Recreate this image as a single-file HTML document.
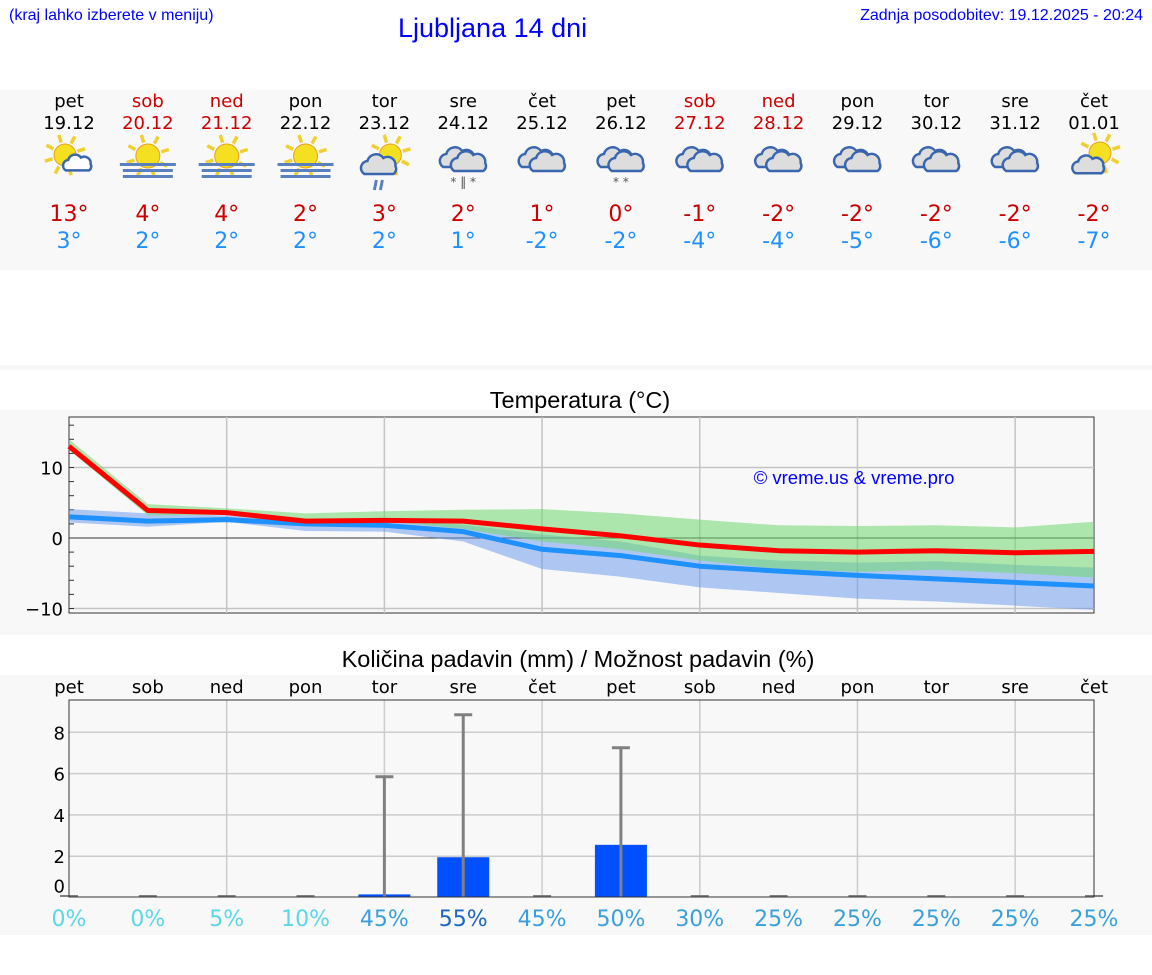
<!DOCTYPE html>
<html><head><meta charset="utf-8"><style>
body{margin:0;width:1152px;height:975px;background:#fff;position:relative;overflow:hidden;font-family:"DejaVu Sans",sans-serif}
.a{position:absolute}
.h{font-family:"Liberation Sans",sans-serif;color:#0000ff}
</style></head><body>
<div class="a h" style="left:9px;top:7px;font-size:16px">(kraj lahko izberete v meniju)</div>
<div class="a h" style="left:398px;top:13px;font-size:27px">Ljubljana 14 dni</div>
<div class="a h" style="right:9px;top:7px;font-size:16px">Zadnja posodobitev: 19.12.2025 - 20:24</div>
<div class="a" style="left:0;top:90px;width:1152px;height:180px;background:#f8f8f8"></div>
<div class="a" style="left:0;top:365px;width:1152px;height:5px;background:#f8f8f8"></div>
<div class="a" style="left:0;top:410px;width:1152px;height:225px;background:#f8f8f8"></div>
<div class="a" style="left:0;top:675px;width:1152px;height:260px;background:#f8f8f8"></div>
<svg id="chart" class="a" style="left:0;top:0" width="1152" height="975"></svg>
<script>
const dayNames=["pet","sob","ned","pon","tor","sre","čet","pet","sob","ned","pon","tor","sre","čet"];
const dates=["19.12","20.12","21.12","22.12","23.12","24.12","25.12","26.12","27.12","28.12","29.12","30.12","31.12","01.01"];
const weekend=[0,1,1,0,0,0,0,0,1,1,0,0,0,0];
const icons=[0,1,1,1,2,3,4,5,4,4,4,4,4,6];
const tMaxLbl=[13,4,4,2,3,2,1,0,-1,-2,-2,-2,-2,-2];
const tMinLbl=[3,2,2,2,2,1,-2,-2,-4,-4,-5,-6,-6,-7];
const tMax=[13,3.9,3.6,2.4,2.5,2.4,1.3,0.3,-1,-1.8,-2,-1.8,-2.1,-1.9];
const tMin=[3,2.4,2.6,2,1.8,0.9,-1.6,-2.5,-4,-4.7,-5.3,-5.8,-6.3,-6.8];
const maxHi=[14,4.8,4.2,3.5,3.8,4,4.1,3.5,2.6,1.8,1.7,1.8,1.5,2.3];
const maxLo=[12.5,3.2,3.3,2.3,2.4,1.3,-0.5,-1.6,-3.2,-4.4,-4.8,-4.5,-5,-5.6];
const minHi=[4.1,3.5,3.2,2.5,2.4,1.9,0.5,-0.5,-2.5,-3.2,-3.5,-3.3,-3.8,-4.2];
const minLo=[2.2,1.6,2.3,1,0.9,-0.5,-4.4,-5.5,-7,-7.8,-8.6,-9,-9.6,-10.2];
const precip=[0,0,0,0,0.15,1.95,0,2.55,0,0,0,0,0,0];
const precipMax=[0,0,0,0,5.85,8.85,0,7.25,0,0,0,0,0,0];
const prob=[0,0,5,10,45,55,45,50,30,25,25,25,25,25];
const tTicks=[-10,0,10];
const pTicks=[0,2,4,6,8];

const X0=69,X1=1094,dx=(X1-X0)/13;
const xd=i=>X0+i*dx;
const yT=v=>538-v*7.05;
const yP=v=>897.5-v*20.65;
const ns="http://www.w3.org/2000/svg";
const svg=document.getElementById('chart');
function mk(t,a,p){const e=document.createElementNS(ns,t);for(const k in a)e.setAttribute(k,a[k]);(p||svg).appendChild(e);return e;}
function txt(x,y,s,sz,fill,anchor,name){const e=mk('text',{x:x,y:y,'font-size':sz,fill:fill,'text-anchor':anchor||'middle','font-family':'"DejaVu Sans",sans-serif'});e.textContent=s;return e;}

const sun=(g,cx,cy,r)=>{for(let k=0;k<8;k++){const a=k*Math.PI/4-0.3;mk('line',{x1:cx+Math.cos(a)*(r+2),y1:cy+Math.sin(a)*(r+2),x2:cx+Math.cos(a)*(r+10),y2:cy+Math.sin(a)*(r+10),stroke:'#f0d030','stroke-width':3.5},g);}mk('circle',{cx:cx,cy:cy,r:r,fill:'#f4e020',stroke:'#e8a020','stroke-width':1},g);};
const cloud=(g,cx,cy,s,fill)=>{mk('path',{d:`M${cx-14*s},${cy+8*s} a${7*s} ${7*s} 0 0 1 ${3*s},${-13*s} a${9*s} ${9*s} 0 0 1 ${16*s},${-3*s} a${8*s} ${8*s} 0 0 1 ${12*s},${8*s} a${6*s} ${6*s} 0 0 1 ${-2*s},${8*s} z`,fill:fill,stroke:'#3a66b0','stroke-width':2.5},g);};
for(let i=0;i<14;i++){
  const x=xd(i), col=weekend[i]?'#cc0000':'#000';
  txt(x,107,dayNames[i],18,col,'middle','day-name');
  txt(x,129,dates[i],18,col,'middle','day-date');
  txt(x,221,tMaxLbl[i]+'°',22,'#cc0000','middle','max-temp');
  txt(x,248,tMinLbl[i]+'°',22,'#1e90ff','middle','min-temp');
  const g=mk('g',{});
  const t=icons[i], cy=160;
  if(t==0){sun(g,x-4,cy-5,11);cloud(g,x+8,cy+4,0.8,'#fff');}
  if(t==1){sun(g,x,cy-4,12);for(let k=0;k<3;k++)mk('rect',{x:x-28+(k?3:0),y:cy+3+k*6,width:k?50:56,height:3,fill:'#5a80c0'},g);}
  if(t==2){sun(g,x+6,cy-5,11);cloud(g,x-6,cy+6,1,'#ddd');mk('path',{d:`M${x-8},${cy+20} l-2,10 M${x-2},${cy+20} l-2,10`,stroke:'#5a80c0','stroke-width':3},g);}
  if(t==3||t==5||t==4){cloud(g,x-6,cy-1,1,'#ddd');cloud(g,x+5,cy+3,1,'#ddd');}
  if(t==3||t==5)txt(x,cy+26,t==3?'* ‖ *':'* *',12,'#555','middle','precip-symbol');
  if(t==6){sun(g,x+6,cy-7,11);cloud(g,x-6,cy+6,0.9,'#ddd');}
}

const tt=txt(580,408,'Temperatura (°C)',23.5,'#000','middle','temp-chart-title');tt.setAttribute('font-family','"Liberation Sans",sans-serif');
mk('rect',{x:X0,y:417,width:X1-X0,height:196,fill:'#f8f8f8',stroke:'#333','stroke-width':1});
for(let i=2;i<14;i+=2)mk('line',{x1:xd(i),y1:417,x2:xd(i),y2:613,stroke:'#c4c4c4','stroke-width':1.5});
for(const v of tTicks){mk('line',{x1:X0,y1:yT(v),x2:X1,y2:yT(v),stroke:v==0?'#333':'#c4c4c4','stroke-width':v==0?1:1.5});txt(X0-6,yT(v)+7,v<0?'−'+(-v):String(v),18,'#000','end','temp-tick');}
for(let v=-10;v<=16;v+=2)mk('line',{x1:X0,y1:yT(v),x2:X0+5,y2:yT(v),stroke:'#333'});
function band(hi,lo,fill,name){let d='M'+hi.map((v,i)=>xd(i)+','+yT(v)).join(' L')+' L'+lo.map((v,i)=>xd(i)+','+yT(v)).reverse().join(' L')+'Z';const p=mk('path',{d:d,fill:fill});}
band(minHi,minLo,'rgba(100,150,235,0.5)','min-range-band');
band(maxHi,maxLo,'rgba(110,215,110,0.55)','max-range-band');
function line(arr,c,name){const p=mk('polyline',{points:arr.map((v,i)=>xd(i)+','+yT(v)).join(' '),fill:'none',stroke:c,'stroke-width':5,'stroke-linejoin':'round'});}
line(tMin,'#1e90ff','min-temp-line');
line(tMax,'#ff0000','max-temp-line');
const cp=txt(854,484,'© vreme.us & vreme.pro',18.5,'#0000ff','middle','copyright');cp.setAttribute('font-family','"Liberation Sans",sans-serif');

const pt=txt(578,667,'Količina padavin (mm) / Možnost padavin (%)',23.5,'#000','middle','precip-chart-title');pt.setAttribute('font-family','"Liberation Sans",sans-serif');
for(let i=0;i<14;i++)txt(xd(i),693,dayNames[i],18,'#000','middle','precip-day');
mk('rect',{x:X0,y:700,width:X1-X0,height:197,fill:'#f8f8f8'});
for(let i=2;i<14;i+=2)mk('line',{x1:xd(i),y1:700,x2:xd(i),y2:897,stroke:'#ccc','stroke-width':1.5});
for(const v of pTicks){if(v>0)mk('line',{x1:X0,y1:yP(v),x2:X1,y2:yP(v),stroke:'#ccc','stroke-width':1.5});txt(X0-4,yP(v)+(v==0?-5:7),String(v),18,'#000','end','precip-tick');}
for(let i=0;i<14;i++){
  const x=xd(i);
  if(precip[i]>0){const r=mk('rect',{x:x-26,y:yP(precip[i]),width:52,height:yP(0)-yP(precip[i]),fill:'#0050ff'});}
  if(precipMax[i]>0){mk('line',{x1:x,y1:yP(0),x2:x,y2:yP(precipMax[i]),stroke:'#808080','stroke-width':3});mk('line',{x1:x-9,y1:yP(precipMax[i]),x2:x+9,y2:yP(precipMax[i]),stroke:'#808080','stroke-width':3});}
  else mk('line',{x1:x-9,y1:896,x2:x+9,y2:896,stroke:'#808080','stroke-width':2});
  const p=prob[i], c=p>=55?'#1a66c0':p>=25?'#3aa0dc':'#5bd7e8';
  txt(x,926,p+'%',22,c,'middle','precip-probability');
}
mk('rect',{x:X0,y:700,width:X1-X0,height:197,fill:'none',stroke:'#333','stroke-width':1});
</script>
</body></html>
